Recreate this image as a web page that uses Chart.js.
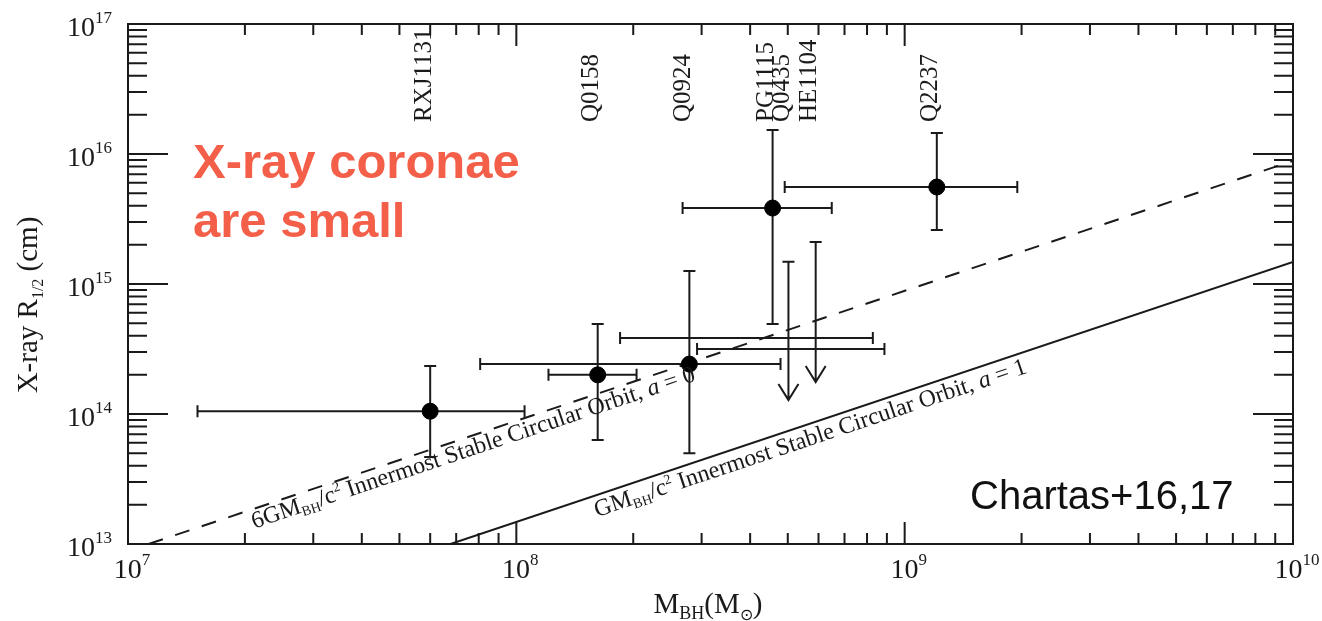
<!DOCTYPE html>
<html>
<head>
<meta charset="utf-8">
<script src="https://cdn.jsdelivr.net/npm/chart.js@4.4.1/dist/chart.umd.min.js"></script>
<style>
  html, body { margin: 0; padding: 0; background: #fff; }
</style>
</head>
<body>
<canvas id="coronaChart" width="1322" height="621"></canvas>
<script>
// lensed quasars with a measured half-light radius
const names = ['RXJ1131', 'Q0158', 'Q0924', 'PG1115', 'Q2237'];
const massBH = [6.0e7, 1.62e8, 2.79e8, 4.57e8, 1.21e9];
const massLow = [1.51e7, 1.21e8, 8.07e7, 2.68e8, 4.91e8];
const massHigh = [1.05e8, 2.04e8, 4.79e8, 6.49e8, 1.95e9];
const radius = [1.05e14, 2.0e14, 2.42e14, 3.84e15, 5.57e15];
const radiusLow = [4.67e13, 6.3e13, 5.0e13, 4.92e14, 2.6e15];
const radiusHigh = [2.34e14, 4.92e14, 1.26e15, 1.53e16, 1.45e16];

// upper limits
const limitNames = ['Q0435', 'HE1104'];
const limitMass = [5.02e8, 5.9e8];
const limitMassLow = [2.92e8, 1.85e8];
const limitMassHigh = [8.87e8, 8.28e8];
const limitBarRadius = [3.16e14, 3.84e14];
const limitTop = [1.48e15, 2.1e15];
const limitTip = [1.28e14, 1.76e14];

// ISCO lines (mass, radius end points)
const iscoA0 = [{ x: 1.13e7, y: 1e13 }, { x: 1e10, y: 8.86e15 }];
const iscoA1 = [{ x: 6.77e7, y: 1e13 }, { x: 1e10, y: 1.48e15 }];

// axes
const xDecades = [1e7, 1e8, 1e9, 1e10];
const xExponents = ['7', '8', '9', '10'];
const yDecades = [1e13, 1e14, 1e15, 1e16, 1e17];
const yExponents = ['13', '14', '15', '16', '17'];

const SERIF = '"Liberation Serif", "Times New Roman", serif';
const INK = '#1a1a1a';

function minorTicks(decades) {
  const out = [];
  for (let i = 0; i < decades.length - 1; i++) {
    for (let k = 2; k <= 9; k++) out.push(decades[i] * k);
  }
  return out;
}

// parts: {t, size, dy, italic}
function drawRich(ctx, parts, x, y, align) {
  const fontOf = p => (p.italic ? 'italic ' : '') + p.size + 'px ' + SERIF;
  let total = 0;
  parts.forEach(p => { ctx.font = fontOf(p); total += ctx.measureText(p.t).width; });
  let cx = x;
  if (align === 'center') cx = x - total / 2;
  if (align === 'right') cx = x - total;
  ctx.textAlign = 'left';
  parts.forEach(p => {
    ctx.font = fontOf(p);
    ctx.fillText(p.t, cx, y + (p.dy || 0));
    cx += ctx.measureText(p.t).width;
  });
}

function pointOnLine(line, m) {
  const t = (Math.log10(m) - Math.log10(line[0].x)) / (Math.log10(line[1].x) - Math.log10(line[0].x));
  return Math.pow(10, Math.log10(line[0].y) + t * (Math.log10(line[1].y) - Math.log10(line[0].y)));
}

const errorBars = {
  id: 'errorBars',
  beforeDatasetsDraw(chart) {
    const { ctx, scales: { x, y } } = chart;
    const cap = 6;
    ctx.save();
    ctx.strokeStyle = INK;
    ctx.lineWidth = 2;
    ctx.beginPath();
    massBH.forEach((m, i) => {
      const px = x.getPixelForValue(m), py = y.getPixelForValue(radius[i]);
      const x0 = x.getPixelForValue(massLow[i]), x1 = x.getPixelForValue(massHigh[i]);
      const y0 = y.getPixelForValue(radiusLow[i]), y1 = y.getPixelForValue(radiusHigh[i]);
      ctx.moveTo(x0, py); ctx.lineTo(x1, py);
      ctx.moveTo(x0, py - cap); ctx.lineTo(x0, py + cap);
      ctx.moveTo(x1, py - cap); ctx.lineTo(x1, py + cap);
      ctx.moveTo(px, y0); ctx.lineTo(px, y1);
      ctx.moveTo(px - cap, y0); ctx.lineTo(px + cap, y0);
      ctx.moveTo(px - cap, y1); ctx.lineTo(px + cap, y1);
    });
    limitMass.forEach((m, i) => {
      const px = x.getPixelForValue(m), py = y.getPixelForValue(limitBarRadius[i]);
      const x0 = x.getPixelForValue(limitMassLow[i]), x1 = x.getPixelForValue(limitMassHigh[i]);
      const yt = y.getPixelForValue(limitTop[i]), yb = y.getPixelForValue(limitTip[i]);
      ctx.moveTo(x0, py); ctx.lineTo(x1, py);
      ctx.moveTo(x0, py - cap); ctx.lineTo(x0, py + cap);
      ctx.moveTo(x1, py - cap); ctx.lineTo(x1, py + cap);
      ctx.moveTo(px, yt); ctx.lineTo(px, yb);
      ctx.moveTo(px - cap, yt); ctx.lineTo(px + cap, yt);
      ctx.moveTo(px - 10, yb - 16); ctx.lineTo(px, yb); ctx.lineTo(px + 10, yb - 16);
    });
    ctx.stroke();
    ctx.restore();
  }
};

const frameAndText = {
  id: 'frameAndText',
  afterDraw(chart) {
    const { ctx, chartArea: a, scales: { x, y } } = chart;
    ctx.save();
    ctx.strokeStyle = INK;
    ctx.fillStyle = INK;
    ctx.lineWidth = 2;
    ctx.strokeRect(a.left, a.top, a.right - a.left, a.bottom - a.top);

    // inward ticks on all four sides
    ctx.beginPath();
    const xt = (v, len) => {
      const p = x.getPixelForValue(v);
      ctx.moveTo(p, a.bottom); ctx.lineTo(p, a.bottom - len);
      ctx.moveTo(p, a.top); ctx.lineTo(p, a.top + len);
    };
    const yt = (v, len) => {
      const p = y.getPixelForValue(v);
      ctx.moveTo(a.left, p); ctx.lineTo(a.left + len, p);
      ctx.moveTo(a.right, p); ctx.lineTo(a.right - len, p);
    };
    xDecades.forEach(v => xt(v, 22));
    minorTicks(xDecades).forEach(v => xt(v, 11));
    yDecades.forEach(v => yt(v, 40));
    minorTicks(yDecades).forEach(v => yt(v, 19));
    ctx.stroke();

    // tick labels
    ctx.textBaseline = 'middle';
    xDecades.forEach((v, i) => {
      drawRich(ctx, [{ t: '10', size: 28 }, { t: xExponents[i], size: 17, dy: -10 }],
        x.getPixelForValue(v) + 4, 571, 'center');
    });
    yDecades.forEach((v, i) => {
      drawRich(ctx, [{ t: '10', size: 28 }, { t: yExponents[i], size: 17, dy: -10 }],
        112, y.getPixelForValue(v) + 5, 'right');
    });

    // axis titles
    ctx.textBaseline = 'alphabetic';
    drawRich(ctx, [
      { t: 'M', size: 29 }, { t: 'BH', size: 18, dy: 6 },
      { t: '(M', size: 29 }, { t: '\u2299', size: 16, dy: 7 }, { t: ')', size: 29 }
    ], 708, 613, 'center');
    ctx.save();
    ctx.translate(37, 305);
    ctx.rotate(-Math.PI / 2);
    drawRich(ctx, [
      { t: 'X-ray R', size: 29 }, { t: '1/2', size: 16, dy: 6 }, { t: ' (cm)', size: 29 }
    ], 0, 0, 'center');
    ctx.restore();

    // object names along the top
    const allNames = names.concat(limitNames);
    const allMass = massBH.concat(limitMass);
    ctx.font = '25px ' + SERIF;
    ctx.textAlign = 'left';
    ctx.textBaseline = 'middle';
    allNames.forEach((n, i) => {
      ctx.save();
      ctx.translate(x.getPixelForValue(allMass[i]) - 6, 122);
      ctx.rotate(-Math.PI / 2);
      ctx.fillText(n, 0, 0);
      ctx.restore();
    });

    // labels along the ISCO lines
    const lineLabel = (line, m, parts, off) => {
      const p1 = { x: x.getPixelForValue(line[0].x), y: y.getPixelForValue(line[0].y) };
      const p2 = { x: x.getPixelForValue(line[1].x), y: y.getPixelForValue(line[1].y) };
      const ang = Math.atan2(p2.y - p1.y, p2.x - p1.x);
      ctx.save();
      ctx.translate(x.getPixelForValue(m), y.getPixelForValue(pointOnLine(line, m)));
      ctx.rotate(ang);
      ctx.textBaseline = 'alphabetic';
      drawRich(ctx, parts, 0, off, 'left');
      ctx.restore();
    };
    const tail = (prefix, spin) => [
      { t: prefix, size: 24 }, { t: 'BH', size: 14, dy: 4 }, { t: '/c', size: 24 },
      { t: '2', size: 14, dy: -9 }, { t: ' Innermost Stable Circular Orbit, ', size: 24 },
      { t: 'a', size: 24, italic: true }, { t: ' = ' + spin, size: 24 }
    ];
    lineLabel(iscoA0, 2.04e7, tail('6GM', '0'), 19);
    lineLabel(iscoA1, 1.55e8, tail('GM', '1'), 21);

    // slide annotations
    ctx.textAlign = 'left';
    ctx.textBaseline = 'middle';
    ctx.fillStyle = '#f45f4a';
    ctx.font = 'bold 49px "Liberation Sans", Arial, sans-serif';
    ctx.fillText('X-ray coronae', 193, 164);
    ctx.fillText('are small', 193, 223);
    ctx.fillStyle = '#111';
    ctx.font = '40px "Liberation Sans", Arial, sans-serif';
    ctx.fillText('Chartas+16,17', 970, 498);
    ctx.restore();
  }
};

new Chart(document.getElementById('coronaChart'), {
  type: 'scatter',
  data: {
    datasets: [
      {
        label: 'detections',
        data: massBH.map((m, i) => ({ x: m, y: radius[i] })),
        pointRadius: 8,
        pointBackgroundColor: '#000',
        pointBorderColor: '#000'
      },
      {
        label: 'ISCO a=0',
        data: iscoA0,
        showLine: true,
        pointRadius: 0,
        borderColor: INK,
        borderWidth: 2,
        borderDash: [15, 13]
      },
      {
        label: 'ISCO a=1',
        data: iscoA1,
        showLine: true,
        pointRadius: 0,
        borderColor: INK,
        borderWidth: 2
      }
    ]
  },
  options: {
    responsive: false,
    animation: false,
    layout: { padding: { left: 128, right: 29, top: 24, bottom: 77 } },
    scales: {
      x: { type: 'logarithmic', min: 1e7, max: 1e10, display: false },
      y: { type: 'logarithmic', min: 1e13, max: 1e17, display: false }
    },
    plugins: {
      legend: { display: false },
      tooltip: { enabled: false }
    }
  },
  plugins: [errorBars, frameAndText]
});
</script>
</body>
</html>
